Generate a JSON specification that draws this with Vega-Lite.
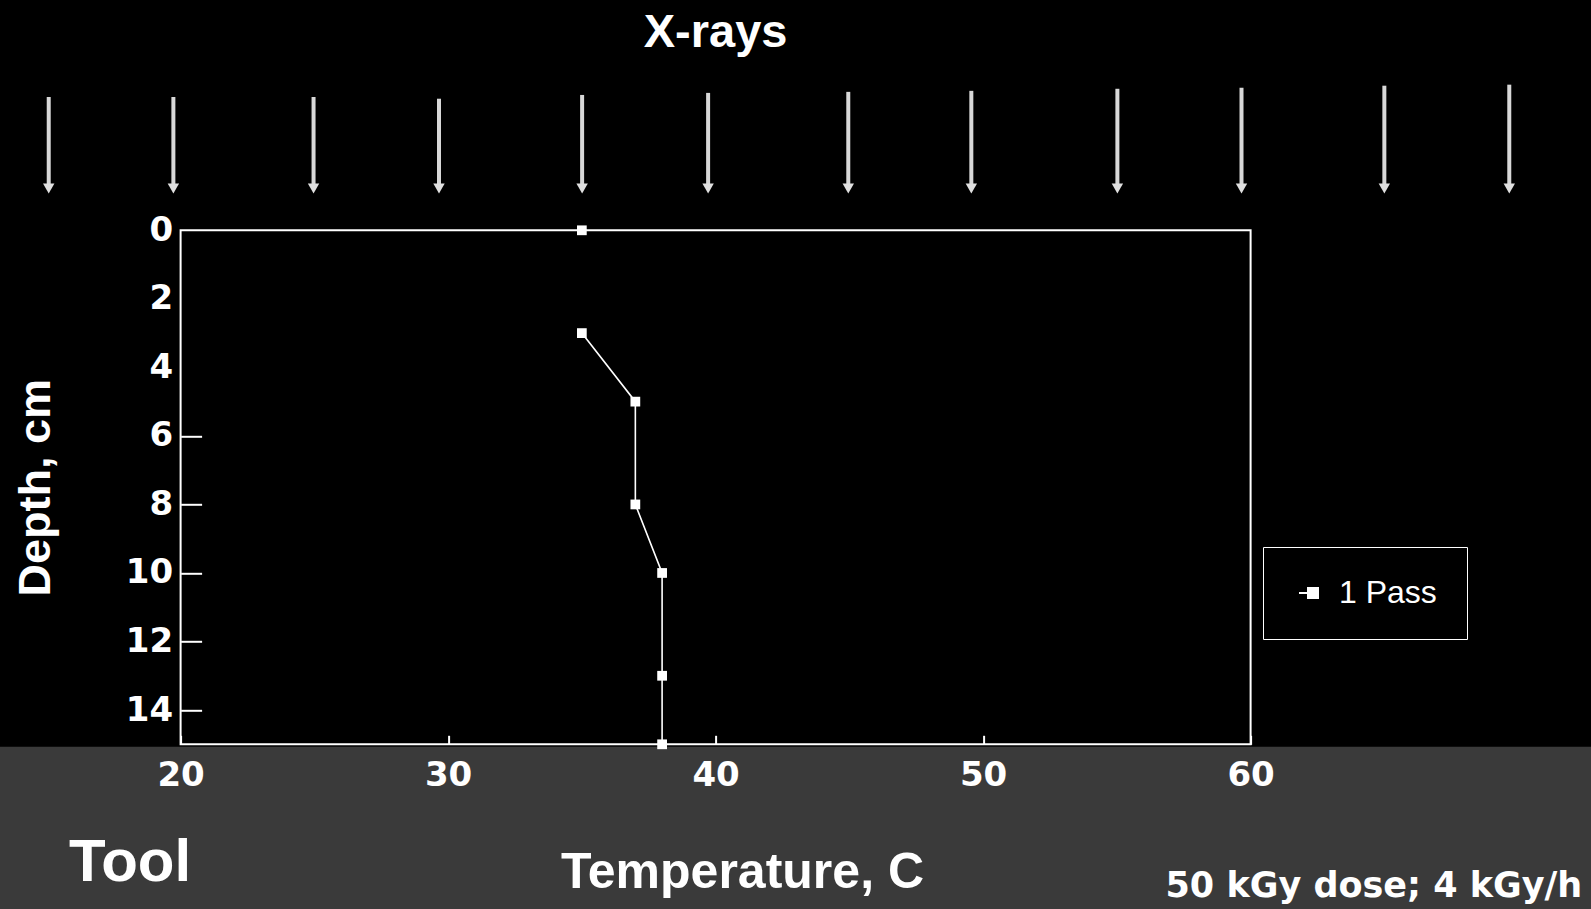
{
  "$schema": "https://vega.github.io/schema/vega-lite/v6.json",
  "width": 1070,
  "height": 514,
  "autosize": {"type": "none"},
  "padding": {"left": 180.6, "top": 230.3, "right": 340.4, "bottom": 164.7},
  "background": "#000000",
  "datasets": {
    "profile": [
      {"temperature": 35.0, "depth": 0, "series": "1 Pass"},
      {"temperature": 35.0, "depth": 3, "series": "1 Pass"},
      {"temperature": 37.0, "depth": 5, "series": "1 Pass"},
      {"temperature": 37.0, "depth": 8, "series": "1 Pass"},
      {"temperature": 38.0, "depth": 10, "series": "1 Pass"},
      {"temperature": 38.0, "depth": 13, "series": "1 Pass"},
      {"temperature": 38.0, "depth": 15, "series": "1 Pass"}
    ],
    "arrows": [
      {"position": 15.07, "top": -3.89, "tip": -1.22},
      {"position": 19.73, "top": -3.89, "tip": -1.22},
      {"position": 24.97, "top": -3.89, "tip": -1.22},
      {"position": 29.66, "top": -3.84, "tip": -1.22},
      {"position": 35.01, "top": -3.95, "tip": -1.22},
      {"position": 39.72, "top": -4.01, "tip": -1.22},
      {"position": 44.96, "top": -4.04, "tip": -1.22},
      {"position": 49.56, "top": -4.07, "tip": -1.22},
      {"position": 55.02, "top": -4.13, "tip": -1.22},
      {"position": 59.66, "top": -4.16, "tip": -1.22},
      {"position": 65.0, "top": -4.22, "tip": -1.22},
      {"position": 69.67, "top": -4.25, "tip": -1.22}
    ],
    "region": [{"name": "tool"}],
    "heading": [{"label": "X-rays"}],
    "toolLabel": [{"label": "Tool"}],
    "doseLabel": [{"label": "50 kGy dose; 4 kGy/h"}]
  },
  "layer": [
    {
      "data": {"name": "region"},
      "mark": {"type": "rect", "fill": "#3a3a3a", "clip": false},
      "encoding": {
        "x": {"datum": 12, "type": "quantitative", "title": "Temperature, C", "scale": {"domain": [20, 60], "nice": false, "zero": false}},
        "x2": {"datum": 74},
        "y": {"datum": 15.07, "type": "quantitative", "title": "Depth, cm", "scale": {"domain": [0, 15], "reverse": true, "nice": false, "zero": false}},
        "y2": {"datum": 20.5}
      }
    },
    {
      "data": {"name": "arrows"},
      "mark": {"type": "rule", "color": "#d8d8d8", "strokeWidth": 4, "clip": false},
      "encoding": {
        "x": {"field": "position", "type": "quantitative", "title": "Temperature, C"},
        "y": {"field": "top", "type": "quantitative", "title": "Depth, cm"},
        "y2": {"field": "tip"}
      }
    },
    {
      "data": {"name": "arrows"},
      "mark": {"type": "point", "shape": "triangle-down", "filled": true, "color": "#e0e0e0", "size": 130, "opacity": 1, "clip": false},
      "encoding": {
        "x": {"field": "position", "type": "quantitative", "title": "Temperature, C"},
        "y": {"field": "tip", "type": "quantitative", "title": "Depth, cm"}
      }
    },
    {
      "data": {"name": "profile"},
      "transform": [{"filter": "datum.depth > 0"}],
      "mark": {"type": "line", "strokeWidth": 1.6, "clip": false},
      "encoding": {
        "x": {"field": "temperature", "type": "quantitative", "title": "Temperature, C"},
        "y": {"field": "depth", "type": "quantitative", "title": "Depth, cm"},
        "order": {"field": "depth"},
        "color": {"field": "series", "type": "nominal", "scale": {"range": ["#ffffff"]}}
      }
    },
    {
      "data": {"name": "profile"},
      "mark": {"type": "point", "shape": "square", "filled": true, "size": 95, "opacity": 1, "clip": false},
      "encoding": {
        "x": {
          "field": "temperature", "type": "quantitative", "title": "Temperature, C",
          "axis": {"values": [20, 30, 40, 50, 60], "titleX": 561.4, "zindex": 1, "labelFlush": false}
        },
        "y": {
          "field": "depth", "type": "quantitative", "title": "Depth, cm",
          "axis": {
            "values": [0, 2, 4, 6, 8, 10, 12, 14],
            "zindex": 1,
            "tickOpacity": {"condition": {"test": "datum.value < 5", "value": 0}, "value": 1}
          }
        },
        "color": {
          "field": "series", "type": "nominal", "scale": {"range": ["#ffffff"]},
          "legend": {
            "title": null,
            "orient": "none",
            "legendX": 1082.4,
            "legendY": 316.7,
            "padding": 30,
            "strokeColor": "#ffffff",
            "symbolType": "M-1,-0.09H-0.2V0.09H-1Z M-0.2,-0.6H1V0.6H-0.2Z",
            "symbolSize": 400,
            "symbolFillColor": "#ffffff",
            "symbolStrokeWidth": 0,
            "labelFont": "Liberation Sans",
            "labelFontSize": 32,
            "labelFontWeight": "normal",
            "labelColor": "#ffffff",
            "labelOffset": 14
          }
        }
      }
    },
    {
      "data": {"name": "heading"},
      "mark": {"type": "text", "font": "Liberation Sans", "fontWeight": "bold", "fontSize": 47, "color": "#ffffff", "align": "center", "baseline": "alphabetic", "clip": false},
      "encoding": {
        "x": {"datum": 40.0, "type": "quantitative", "title": "Temperature, C"},
        "y": {"datum": -5.36, "type": "quantitative", "title": "Depth, cm"},
        "text": {"field": "label"}
      }
    },
    {
      "data": {"name": "toolLabel"},
      "mark": {"type": "text", "font": "Liberation Sans", "fontWeight": "bold", "fontSize": 60, "color": "#ffffff", "align": "center", "baseline": "alphabetic", "clip": false},
      "encoding": {
        "x": {"datum": 18.11, "type": "quantitative", "title": "Temperature, C"},
        "y": {"datum": 18.98, "type": "quantitative", "title": "Depth, cm"},
        "text": {"field": "label"}
      }
    },
    {
      "data": {"name": "doseLabel"},
      "mark": {"type": "text", "font": "DejaVu Sans", "fontWeight": "bold", "fontSize": 35, "color": "#ffffff", "align": "right", "baseline": "alphabetic", "clip": false},
      "encoding": {
        "x": {"datum": 72.4, "type": "quantitative", "title": "Temperature, C"},
        "y": {"datum": 19.47, "type": "quantitative", "title": "Depth, cm"},
        "text": {"field": "label"}
      }
    }
  ],
  "config": {
    "view": {"stroke": "#ffffff", "strokeWidth": 2, "fill": null},
    "axis": {
      "domain": false,
      "grid": false,
      "tickColor": "#ffffff",
      "tickWidth": 2,
      "labelColor": "#ffffff",
      "labelFont": "DejaVu Sans",
      "labelFontWeight": "bold",
      "labelFontSize": 34,
      "titleColor": "#ffffff",
      "titleFont": "Liberation Sans",
      "titleFontWeight": "bold"
    },
    "axisX": {
      "tickSize": -9,
      "labelPadding": 23,
      "titleFontSize": 50,
      "titlePadding": 55
    },
    "axisY": {
      "tickSize": -21,
      "labelPadding": 29,
      "titleFontSize": 45,
      "titlePadding": 67
    }
  }
}
